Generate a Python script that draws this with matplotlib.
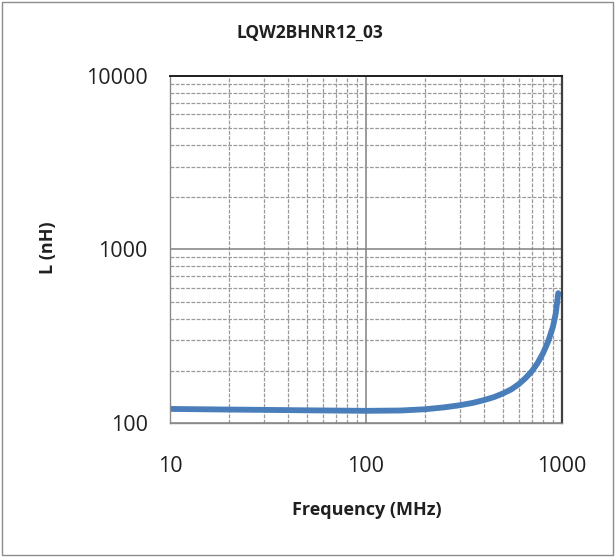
import matplotlib
matplotlib.use("Agg")
import matplotlib.pyplot as plt
from matplotlib.patches import Rectangle
from matplotlib.ticker import LogLocator, NullFormatter, FixedLocator

freq = [10, 20, 30, 50, 100, 150, 200, 250, 300, 350, 400, 450, 500, 550, 600,
        650, 700, 750, 800, 850, 900, 930, 957]
induct = [120.5, 119.5, 119, 118.3, 117.5, 118, 120, 123, 126.5, 130.5, 135.5, 141,
          148, 156, 167, 181, 198, 221, 252, 295, 360, 430, 560]

title = "LQW2BHNR12_03"
xlabel = "Frequency (MHz)"
ylabel = "L (nH)"
xticks = [10, 100, 1000]
yticks = [100, 1000, 10000]

plt.rcParams['font.family'] = ['Open Sans', 'DejaVu Sans']

fig = plt.figure(figsize=(6.15, 5.57), dpi=100)
fig.patches.append(Rectangle((0.003, 0.004), 0.993, 0.992, transform=fig.transFigure,
                             fill=False, edgecolor='#8c8c8c', linewidth=1.0))
ax = fig.add_axes([0.2764, 0.2406, 0.6374, 0.623])
ax.set_xscale('log')
ax.set_yscale('log')
ax.set_xlim(10, 1000)
ax.set_ylim(100, 10000)

ax.xaxis.set_major_locator(FixedLocator(xticks))
ax.yaxis.set_major_locator(FixedLocator(yticks))
ax.xaxis.set_minor_locator(LogLocator(base=10, subs=range(2, 10)))
ax.yaxis.set_minor_locator(LogLocator(base=10, subs=range(2, 10)))
ax.xaxis.set_minor_formatter(NullFormatter())
ax.yaxis.set_minor_formatter(NullFormatter())
ax.set_xticklabels([str(v) for v in xticks])
ax.set_yticklabels([str(v) for v in yticks])

ax.grid(which='major', color='#808080', linewidth=1.1, linestyle='-')
ax.grid(which='minor', color='#9a9a9a', linewidth=0.9, linestyle=(0, (3, 1.2)))
ax.set_axisbelow(True)

for s in ax.spines.values():
    s.set_color('#8a8a8a')
    s.set_linewidth(1.0)
ax.spines['top'].set_color('#202020')
ax.spines['top'].set_linewidth(1.4)
ax.spines['right'].set_color('#404040')
ax.spines['right'].set_linewidth(1.6)

ax.tick_params(which='both', length=0)
ax.tick_params(axis='x', pad=24, labelsize=15.5, labelcolor='#202020')
ax.tick_params(axis='y', pad=16, labelsize=15.5, labelcolor='#202020')

ax.plot(freq, induct, color='#4a7ebb', linewidth=4.2, solid_capstyle='round',
        solid_joinstyle='round')

fig.text(0.504, 0.9417, title, ha='center', va='center', fontsize=12.5,
         fontweight='bold', color='#202020')
fig.text(0.596, 0.0835, xlabel, ha='center', va='center', fontsize=13,
         fontweight='bold', color='#202020')
fig.text(0.078, 0.555, ylabel, ha='center', va='center', fontsize=13,
         fontweight='bold', rotation=90, color='#202020')

fig.savefig('out.png', dpi=100)
